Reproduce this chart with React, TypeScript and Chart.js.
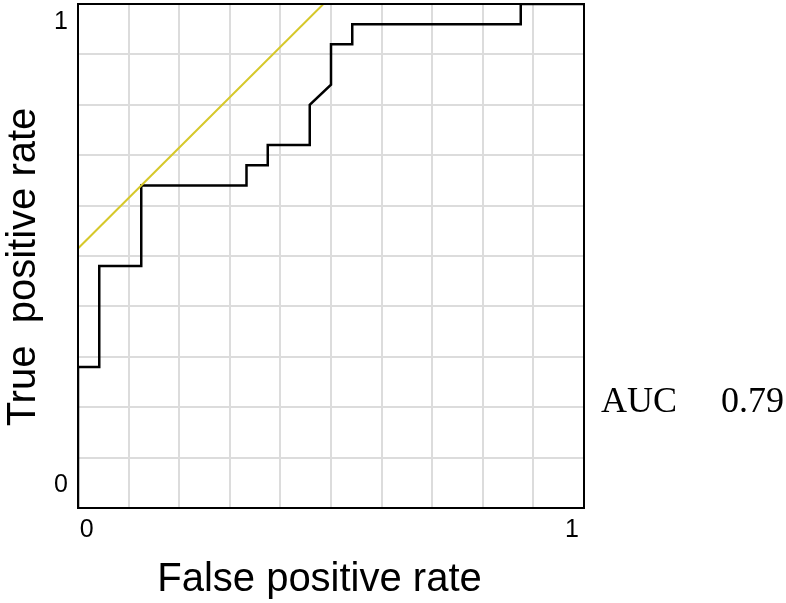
import React, { useEffect, useRef } from "react";
import { Chart, registerables } from "chart.js";

Chart.register(...registerables);

// ROC curve vertices (false positive rate, true positive rate)
const fpr = [0, 0, 0.042, 0.042, 0.125, 0.125, 0.333, 0.333, 0.375, 0.375, 0.458, 0.458, 0.5, 0.5, 0.542, 0.542, 0.875, 0.875, 1];
const tpr = [0, 0.28, 0.28, 0.48, 0.48, 0.64, 0.64, 0.68, 0.68, 0.72, 0.72, 0.8, 0.84, 0.92, 0.92, 0.96, 0.96, 1, 1];

// Reference (tangent) line
const refX = [0, 0.485];
const refY = [0.515, 1];

// Grid values and tick labels
const gridValues = [0, 0.1, 0.2, 0.3, 0.4, 0.5, 0.6, 0.7, 0.8, 0.9, 1];
const xTickPos = [0.017, 0.976];
const xTickLabels = ["0", "1"];
const yTickPos = [0.045, 0.964];
const yTickLabels = ["0", "1"];

const xTitle = "False positive rate";
const yTitle = "True  positive rate";
const aucLabel = "AUC";
const aucValue = "0.79";

const SANS = '"Liberation Sans", Arial, Helvetica, sans-serif';
const SERIF = '"Liberation Serif", "Times New Roman", serif';

const textPlugin = {
  id: "rocTexts",
  afterDraw(chart: any) {
    const ctx = chart.ctx;
    const a = chart.chartArea;
    ctx.save();
    ctx.strokeStyle = "#000";
    ctx.lineWidth = 2;
    ctx.strokeRect(a.left, a.top, a.right - a.left, a.bottom - a.top);
    ctx.fillStyle = "#000";
    ctx.font = `40px ${SANS}`;
    ctx.textAlign = "center";
    ctx.textBaseline = "alphabetic";
    ctx.fillText(xTitle, a.left + 241.5, a.bottom + 83);
    ctx.save();
    ctx.translate(a.left - 43, a.top + 263);
    ctx.rotate(-Math.PI / 2);
    ctx.fillText(yTitle, 0, 0);
    ctx.restore();
    ctx.font = `36px ${SERIF}`;
    ctx.textAlign = "left";
    ctx.fillText(aucLabel, a.right + 17, a.top + 408);
    ctx.textAlign = "right";
    ctx.fillText(aucValue, a.right + 200, a.top + 408);
    ctx.restore();
  },
};

function buildTicks(labelPos: number[]) {
  return (scale: any) => {
    const vals = [...gridValues, ...labelPos].sort((p, q) => p - q);
    scale.ticks = vals.map((v) => ({ value: v }));
  };
}

export default function App() {
  const ref = useRef<HTMLCanvasElement | null>(null);
  useEffect(() => {
    if (!ref.current) return;
    const rocData = fpr.map((x, i) => ({ x, y: tpr[i] }));
    const refData = refX.map((x, i) => ({ x, y: refY[i] }));
    const chart = new Chart(ref.current, {
      type: "line",
      data: {
        datasets: [
          {
            data: refData,
            borderColor: "#d6c82a",
            borderWidth: 2,
            pointRadius: 0,
            tension: 0,
            fill: false,
          },
          {
            data: rocData,
            borderColor: "#000000",
            borderWidth: 2.5,
            pointRadius: 0,
            tension: 0,
            fill: false,
          },
        ],
      },
      options: {
        animation: false,
        responsive: true,
        maintainAspectRatio: false,
        layout: { padding: { top: 4, right: 202, left: 0, bottom: 0 } },
        plugins: { legend: { display: false }, tooltip: { enabled: false }, title: { display: false } },
        scales: {
          x: {
            type: "linear",
            min: 0,
            max: 1,
            afterBuildTicks: buildTicks(xTickPos),
            afterFit: (s: any) => {
              s.height = 95;
              s.paddingLeft = 0;
              s.paddingRight = 0;
            },
            grid: {
              color: (c: any) => (c.tick && xTickPos.includes(c.tick.value) ? "rgba(0,0,0,0)" : "#dcdcdc"),
              lineWidth: 2,
              drawTicks: false,
            },
            border: { display: true, color: "#000", width: 2 },
            ticks: {
              autoSkip: false,
              maxRotation: 0,
              padding: 7,
              color: "#000",
              font: { family: SANS, size: 25 },
              callback: (v: any) => {
                const i = xTickPos.indexOf(Number(v));
                return i >= 0 ? xTickLabels[i] : "";
              },
            },
          },
          y: {
            type: "linear",
            min: 0,
            max: 1,
            afterBuildTicks: buildTicks(yTickPos),
            afterFit: (s: any) => {
              s.width = 78;
              s.paddingTop = 0;
              s.paddingBottom = 0;
            },
            grid: {
              color: (c: any) => (c.tick && yTickPos.includes(c.tick.value) ? "rgba(0,0,0,0)" : "#dcdcdc"),
              lineWidth: 2,
              drawTicks: false,
            },
            border: { display: true, color: "#000", width: 2 },
            ticks: {
              autoSkip: false,
              padding: 10,
              color: "#000",
              font: { family: SANS, size: 25 },
              callback: (v: any) => {
                const i = yTickPos.indexOf(Number(v));
                return i >= 0 ? yTickLabels[i] : "";
              },
            },
          },
        },
      },
      plugins: [textPlugin],
    });
    return () => chart.destroy();
  }, []);
  return (
    <div style={{ position: "absolute", left: 0, top: 0, width: 786, height: 603, background: "#fff" }}>
      <canvas ref={ref} />
    </div>
  );
}
